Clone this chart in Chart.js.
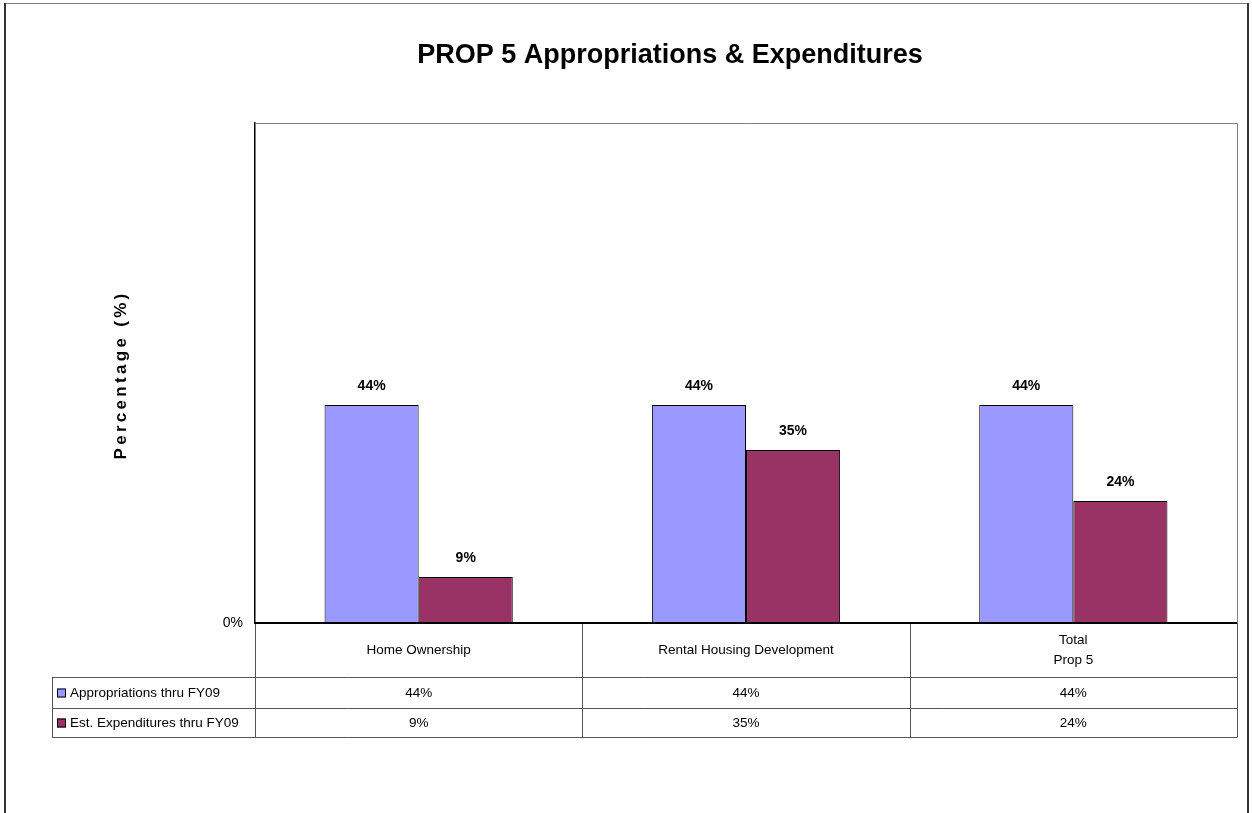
<!DOCTYPE html>
<html>
<head>
<meta charset="utf-8">
<style>
  html, body { margin: 0; padding: 0; background: #fff; }
  #wrap { width: 1252px; height: 813px; }
</style>
<script src="https://cdn.jsdelivr.net/npm/chart.js@4/dist/chart.umd.min.js"></script>
</head>
<body>
<div id="wrap"><canvas id="c" width="1252" height="813"></canvas></div>
<script>
const chartTitle = 'PROP 5 Appropriations & Expenditures';
const yAxisTitle = 'Percentage (%)';
const categories = [['Home Ownership'], ['Rental Housing Development'], ['Total', 'Prop 5']];
const seriesNames = ['Appropriations thru FY09', 'Est. Expenditures thru FY09'];
const appropriations = [43.6, 43.6, 43.6];
const expenditures = [9.2, 34.6, 24.4];
const seriesColors = ['#9999FF', '#993366'];
const yTicks = [0, 100];

const FONT = '"Liberation Sans", Arial, sans-serif';
const pct = v => Math.round(v) + '%';

const overlay = {
  id: 'overlay',
  afterDraw(chart) {
    const ctx = chart.ctx;
    const a = chart.chartArea;
    ctx.save();

    // outer chart border
    ctx.strokeStyle = '#808080';
    ctx.lineWidth = 1;
    ctx.beginPath();
    ctx.moveTo(4, 3.5); ctx.lineTo(1248, 3.5);
    ctx.stroke();
    ctx.strokeStyle = '#333';
    ctx.lineWidth = 2;
    ctx.beginPath();
    ctx.moveTo(5, 3); ctx.lineTo(5, 813);
    ctx.moveTo(1248, 3); ctx.lineTo(1248, 813);
    ctx.stroke();

    // title
    ctx.fillStyle = '#000';
    ctx.font = 'bold 27px ' + FONT;
    ctx.textAlign = 'center';
    ctx.textBaseline = 'middle';
    ctx.fillText(chartTitle, 670, 56);

    // y axis title
    ctx.save();
    ctx.translate(121, 375);
    ctx.rotate(-Math.PI / 2);
    ctx.font = 'bold 17px ' + FONT;
    ctx.letterSpacing = '3.3px';
    ctx.fillText(yAxisTitle, 0, 0);
    ctx.restore();

    // plot area border (top/right)
    ctx.strokeStyle = '#808080';
    ctx.lineWidth = 1;
    ctx.beginPath();
    ctx.moveTo(a.left, a.top + 0.5); ctx.lineTo(a.right + 0.5, a.top + 0.5);
    ctx.lineTo(a.right + 0.5, a.bottom);
    ctx.stroke();

    // data labels
    ctx.font = 'bold 14px ' + FONT;
    ctx.fillStyle = '#000';
    chart.data.datasets.forEach((ds, di) => {
      chart.getDatasetMeta(di).data.forEach((bar, i) => {
        ctx.fillText(pct(ds.data[i]), bar.x, bar.y - 19);
      });
    });

    // data table
    const n = categories.length;
    const cw = (a.right - a.left) / n;
    const rowTop = a.bottom;
    const r1 = 677, r2 = 708, r3 = 737;
    const legLeft = 52;
    ctx.strokeStyle = '#555';
    ctx.lineWidth = 1;
    ctx.beginPath();
    for (let i = 0; i <= n; i++) {
      const x = Math.round(a.left + i * cw) + 0.5;
      ctx.moveTo(x, rowTop); ctx.lineTo(x, r3);
    }
    [r1, r2, r3].forEach(y => {
      ctx.moveTo(legLeft, y + 0.5); ctx.lineTo(a.right + 0.5, y + 0.5);
    });
    ctx.moveTo(legLeft + 0.5, r1); ctx.lineTo(legLeft + 0.5, r3);
    ctx.stroke();

    // x axis line
    ctx.strokeStyle = '#000';
    ctx.lineWidth = 2;
    ctx.beginPath();
    ctx.moveTo(a.left, a.bottom); ctx.lineTo(a.right, a.bottom);
    ctx.stroke();

    // category labels
    ctx.font = '13.5px ' + FONT;
    ctx.fillStyle = '#000';
    const xs = chart.scales.x;
    categories.forEach((lines, i) => {
      const cx = xs.getPixelForValue(i);
      const cy = (rowTop + r1) / 2;
      const lh = 20;
      lines.forEach((t, k) => {
        ctx.fillText(t, cx, cy + (k - (lines.length - 1) / 2) * lh);
      });
    });

    // table values + legend
    const rows = [[r1, r2], [r2, r3]];
    chart.data.datasets.forEach((ds, di) => {
      const cy = (rows[di][0] + rows[di][1]) / 2 + 0.5;
      ctx.textAlign = 'center';
      ds.data.forEach((v, i) => {
        ctx.fillText(pct(v), xs.getPixelForValue(i), cy);
      });
      // legend key
      ctx.fillStyle = ds.backgroundColor;
      ctx.fillRect(57, cy - 4.5, 9, 9);
      ctx.strokeStyle = '#000';
      ctx.lineWidth = 1;
      ctx.strokeRect(57.5, cy - 4, 8, 8);
      ctx.fillStyle = '#000';
      ctx.textAlign = 'left';
      ctx.fillText(ds.label, 70, cy);
    });

    ctx.restore();
  }
};

new Chart(document.getElementById('c'), {
  type: 'bar',
  data: {
    labels: categories,
    datasets: [
      { label: seriesNames[0], data: appropriations, backgroundColor: seriesColors[0], borderColor: '#000', borderWidth: 1 },
      { label: seriesNames[1], data: expenditures, backgroundColor: seriesColors[1], borderColor: '#000', borderWidth: 1 }
    ]
  },
  options: {
    responsive: false,
    animation: false,
    devicePixelRatio: 1,
    layout: { padding: { left: 0, top: 123, right: 15, bottom: 190 } },
    datasets: { bar: { categoryPercentage: 0.575, barPercentage: 1 } },
    plugins: { legend: { display: false }, title: { display: false }, tooltip: { enabled: false } },
    scales: {
      x: { display: false },
      y: {
        min: yTicks[0], max: yTicks[1],
        afterFit: s => { s.width = 255; },
        afterBuildTicks: s => { s.ticks = yTicks.map(v => ({ value: v })); },
        grid: { display: false, drawTicks: false },
        border: { display: true, color: '#000', width: 1.5 },
        ticks: {
          callback: v => (v === 0 ? '0%' : ''),
          color: '#000',
          padding: 12,
          font: { family: FONT, size: 14 }
        }
      }
    }
  },
  plugins: [overlay]
});
</script>
</body>
</html>
